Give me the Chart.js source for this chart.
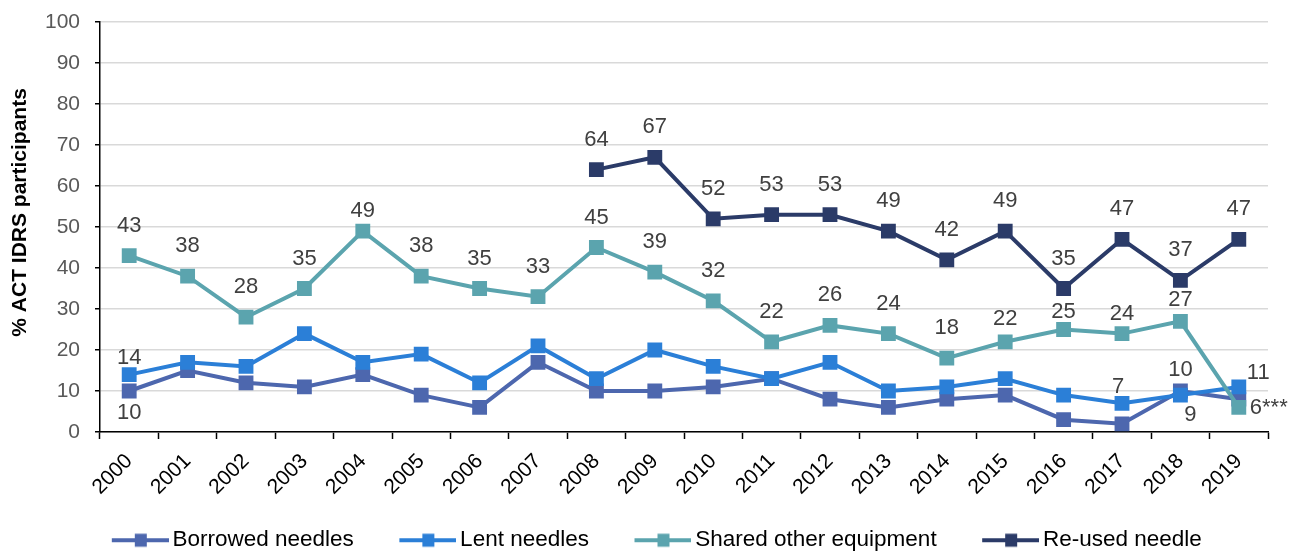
<!DOCTYPE html>
<html>
<head>
<meta charset="utf-8">
<title>Injecting equipment sharing, ACT IDRS 2000-2019</title>
<script src="https://cdn.jsdelivr.net/npm/chart.js@4/dist/chart.umd.min.js"></script>
<style>
  html, body { margin: 0; padding: 0; background: #fff; }
  #wrap { width: 1298px; height: 551px; }
</style>
</head>
<body>
<div id="wrap"><canvas id="stage"></canvas></div>
<script>
const years = ['2000','2001','2002','2003','2004','2005','2006','2007','2008','2009',
               '2010','2011','2012','2013','2014','2015','2016','2017','2018','2019'];

const borrowed = [10, 15, 12, 11, 14, 9, 6, 17, 10, 10, 11, 13, 8, 6, 8, 9, 3, 2, 10, 8];
const lent     = [14, 17, 16, 24, 17, 19, 12, 21, 13, 20, 16, 13, 17, 10, 11, 13, 9, 7, 9, 11];
const shared   = [43, 38, 28, 35, 49, 38, 35, 33, 45, 39, 32, 22, 26, 24, 18, 22, 25, 24, 27, 6];
const reused   = [null, null, null, null, null, null, null, null,
                  64, 67, 52, 53, 53, 49, 42, 49, 35, 47, 37, 47];

// 2019 shared equipment figure carries a significance note
const sharedNote = { 19: '***' };

const FONT = '"Liberation Sans", Arial, Helvetica, sans-serif';
Chart.defaults.font.family = FONT;

// where each value label sits: [dx, dy, align]
const above = (dy) => [0, dy, 'center'];
const labelSpots = {
  borrowed: { 0: [0, 22, 'center'], 18: above(-21) },
  lent:     { 0: above(-17), 17: [-4, -16, 'center'], 18: [10, 20, 'center'], 19: [8, -14, 'left'] },
  shared:   { 4: above(-20), 15: above(-23), 16: above(-18), 17: above(-20), 18: above(-21), 19: [11, 1, 'left'] },
  reused:   {}
};
function spotFor(key, i) {
  const s = labelSpots[key];
  if (s[i]) return s[i];
  if (key === 'shared' || key === 'reused') return above(-30);
  return null;
}

const valueLabels = {
  id: 'valueLabels',
  afterDatasetsDraw(chart) {
    const ctx = chart.ctx;
    ctx.save();
    ctx.font = '22px ' + FONT;
    ctx.fillStyle = '#404040';
    ctx.textBaseline = 'middle';
    chart.data.datasets.forEach((ds, di) => {
      const meta = chart.getDatasetMeta(di);
      ds.data.forEach((v, i) => {
        if (v == null) return;
        const spot = spotFor(ds.key, i);
        if (!spot) return;
        const pt = meta.data[i];
        ctx.textAlign = spot[2];
        const txt = String(v) + ((ds.notes && ds.notes[i]) || '');
        ctx.fillText(txt, pt.x + spot[0], pt.y + spot[1]);
      });
    });
    ctx.restore();
  }
};

// let the legend row centre on the full canvas width, not the padded one
const legendFullWidth = {
  id: 'legendFullWidth',
  afterLayout(chart) {
    if (chart.legend) chart.legend.right = chart.width;
  }
};

// legend icon: short line with a square marker, pushed to the right of the box
function legendIcon(color) {
  const c = document.createElement('canvas');
  c.width = 80; c.height = 16;
  const g = c.getContext('2d');
  g.fillStyle = color;
  g.fillRect(23, 6, 57, 4);
  g.fillRect(46, 1.5, 12, 13);
  return c;
}

const makeSet = (key, label, data, color, order) => ({
  key, label, data, order,
  borderColor: color,
  backgroundColor: color,
  borderWidth: 4,
  pointStyle: 'rect',
  pointRadius: 10.5,
  pointHoverRadius: 10.5,
  pointBorderWidth: 0,
  pointBackgroundColor: color,
  tension: 0,
  spanGaps: false
});

const sets = [
  makeSet('borrowed', 'Borrowed needles', borrowed, '#4D67AE', 4),
  makeSet('lent', 'Lent needles', lent, '#2B7FD7', 3),
  makeSet('shared', 'Shared other equipment', shared, '#5BA4AE', 2),
  makeSet('reused', 'Re-used needle', reused, '#2B3B68', 1)
];
sets[2].notes = sharedNote;

new Chart(document.getElementById('stage'), {
  type: 'line',
  data: { labels: years, datasets: sets },
  plugins: [valueLabels, legendFullWidth],
  options: {
    responsive: true,
    maintainAspectRatio: false,
    animation: false,
    events: [],
    layout: { padding: { top: 22, right: 30, left: 0, bottom: 0 } },
    scales: {
      x: {
        type: 'category',
        offset: true,
        grid: {
          offset: true,
          drawOnChartArea: false,
          drawTicks: true,
          tickLength: 7,
          tickWidth: 1.5,
          tickColor: '#000'
        },
        border: { display: true, color: '#000', width: 1.5 },
        ticks: {
          autoSkip: false,
          minRotation: 45,
          maxRotation: 45,
          padding: 10,
          color: '#000',
          font: { size: 21 }
        },
        afterFit(scale) { scale.height = 67; }
      },
      y: {
        min: 0,
        max: 100,
        ticks: {
          stepSize: 10,
          padding: 15,
          color: '#595959',
          font: { size: 21, lineHeight: 0.6 }
        },
        grid: {
          color: '#d9d9d9',
          lineWidth: 1.5,
          tickLength: 5,
          tickColor: '#000',
          tickWidth: 1.5
        },
        border: { display: true, color: '#000', width: 1.5 },
        title: {
          display: true,
          text: '     % ACT IDRS participants',
          color: '#000',
          font: { size: 21, weight: 'bold' },
          padding: { top: 8, bottom: 0 }
        },
        afterFit(scale) { scale.width = 100; }
      }
    },
    plugins: {
      tooltip: { enabled: false },
      legend: {
        position: 'bottom',
        maxHeight: 52,
        labels: {
          color: '#000',
          font: { size: 22.5 },
          usePointStyle: true,
          pointStyleWidth: 65,
          padding: 30,
          generateLabels(chart) {
            return chart.data.datasets.map((ds, i) => ({
              text: ds.label,
              pointStyle: legendIcon(ds.borderColor),
              fillStyle: ds.borderColor,
              strokeStyle: ds.borderColor,
              lineWidth: 0,
              fontColor: '#000',
              hidden: false,
              datasetIndex: i
            }));
          }
        }
      }
    }
  }
});
</script>
</body>
</html>
